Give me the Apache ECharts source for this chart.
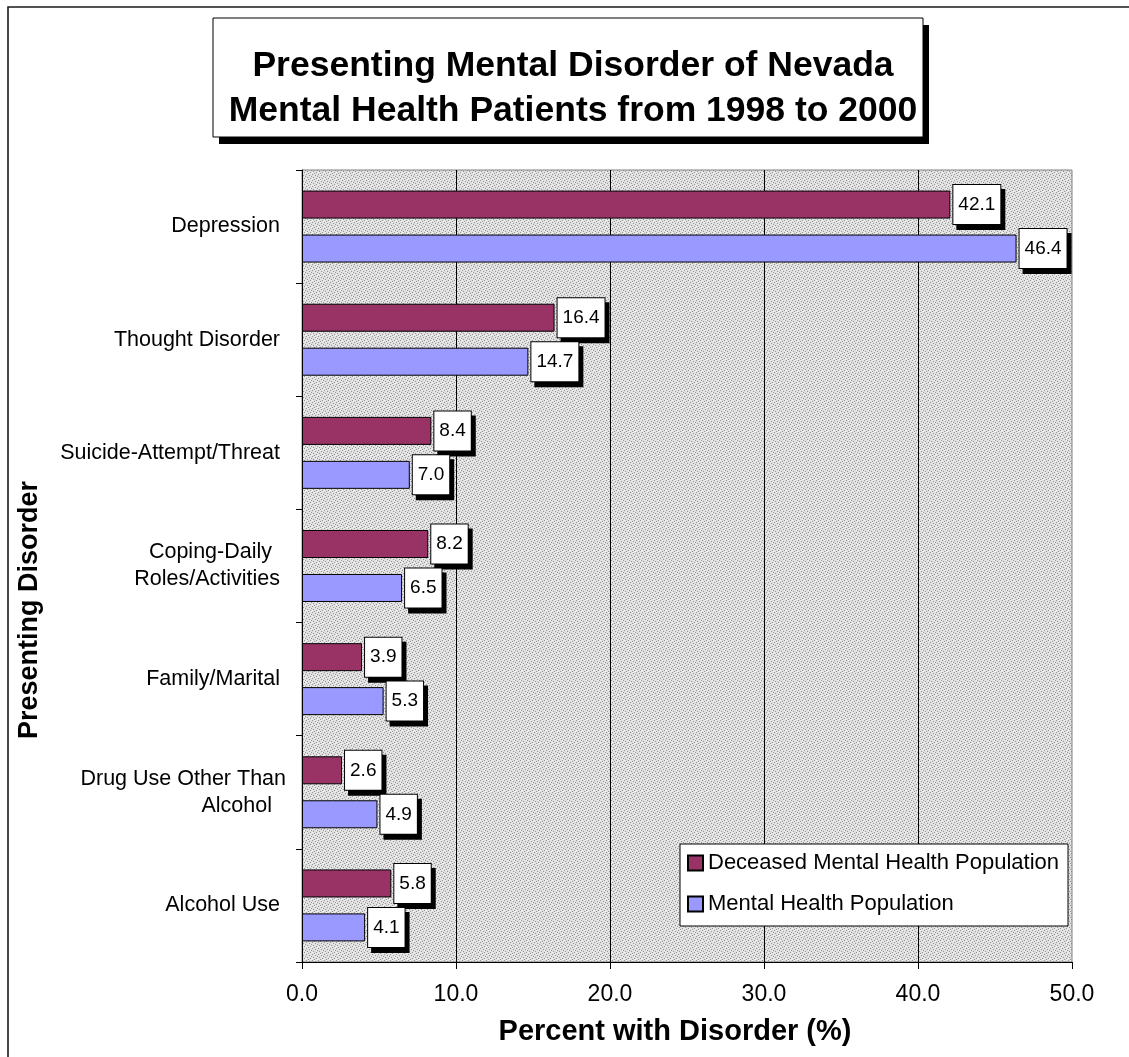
<!DOCTYPE html>
<html>
<head>
<meta charset="utf-8">
<title>Presenting Mental Disorder of Nevada Mental Health Patients</title>
<script src="https://cdn.jsdelivr.net/npm/echarts@6/dist/echarts.min.js"></script>
<style>
  html, body { margin: 0; padding: 0; background: #fff; }
  #chart { width: 1129px; height: 1057px; }
</style>
</head>
<body>
<div id="chart"></div>
<script>
// Presenting disorder categories, top to bottom
const categories = [
  'Depression',
  'Thought Disorder',
  'Suicide-Attempt/Threat',
  'Coping-Daily\nRoles/Activities',
  'Family/Marital',
  'Drug Use Other Than\nAlcohol',
  'Alcohol Use'
];
// Percent with disorder
const deceasedPct = [42.1, 16.4, 8.4, 8.2, 3.9, 2.6, 5.8];
const populationPct = [46.4, 14.7, 7.0, 6.5, 5.3, 4.9, 4.1];
const seriesNames = ['Deceased Mental Health Population', 'Mental Health Population'];
const xMin = 0, xMax = 50, xStep = 10;

const FONT = "'Liberation Sans', Arial, Helvetica, sans-serif";

// Fine grey stipple used as the plot area fill
function stipple() {
  const c = document.createElement('canvas');
  c.width = 6; c.height = 6;
  const g = c.getContext('2d');
  g.fillStyle = '#e0e0e0';
  g.fillRect(0, 0, 6, 6);
  g.fillStyle = '#959595';
  [[0,0],[3,1],[1,3],[4,4],[2,5],[5,2]].forEach(p => g.fillRect(p[0], p[1], 1, 1));
  g.fillStyle = '#f4f4f4';
  [[2,0],[5,5],[0,4],[4,2]].forEach(p => g.fillRect(p[0], p[1], 1, 1));
  return c;
}

// Per-line right padding of the category labels
const lineStyle = {
  'Drug Use Other Than': 'w',
  'Alcohol': 's',
  'Coping-Daily': 's'
};

const chart = echarts.init(document.getElementById('chart'), null, { renderer: 'canvas' });

const valueLabel = {
  show: true,
  position: 'right',
  distance: 3,
  formatter: p => p.value.toFixed(1),
  color: '#000',
  fontFamily: FONT,
  fontSize: 19,
  backgroundColor: '#fff',
  borderColor: '#000',
  borderWidth: 1,
  padding: [10, 5, 10, 5],
  shadowColor: '#000',
  shadowBlur: 0,
  shadowOffsetX: 4,
  shadowOffsetY: 5
};

const catFont = 21.5;

chart.setOption({
  backgroundColor: '#fff',
  animation: false,
  title: {
    text: 'Presenting Mental Disorder of Nevada\nMental Health Patients from 1998 to 2000',
    left: 568,
    textAlign: 'center',
    top: 39,
    textStyle: {
      fontFamily: FONT,
      fontWeight: 'bold',
      fontSize: 35.5,
      lineHeight: 45,
      color: '#000'
    }
  },
  graphic: [
    // outer frame
    { type: 'rect', z: -1, shape: { x: 8, y: 7, width: 1300, height: 1300 },
      style: { fill: null, stroke: '#1a1a1a', lineWidth: 1.6 } },
    // title box with drop shadow
    { type: 'rect', z: -1, shape: { x: 219, y: 25, width: 710, height: 119 },
      style: { fill: '#000' } },
    { type: 'rect', z: -1, shape: { x: 213, y: 18, width: 710, height: 119 },
      style: { fill: '#fff', stroke: '#000', lineWidth: 1 } },
    // vertical axis title
    { type: 'text', x: 30, y: 610, rotation: Math.PI / 2,
      style: { text: 'Presenting Disorder', fontFamily: FONT, fontWeight: 'bold',
               fontSize: 27, fill: '#000', align: 'center', verticalAlign: 'middle' } }
  ],
  legend: {
    orient: 'vertical',
    left: 680,
    top: 844,
    padding: [8, 9, 11, 7],
    itemGap: 19,
    itemWidth: 15,
    itemHeight: 15,
    backgroundColor: '#fff',
    borderColor: '#000',
    borderWidth: 1,
    borderRadius: 0,
    icon: 'rect',
    textStyle: { fontFamily: FONT, fontSize: 22, color: '#000', lineHeight: 22 },
    data: seriesNames
  },
  grid: {
    left: 302,
    top: 170,
    right: 57,
    bottom: 95,
    show: true,
    backgroundColor: { image: stipple(), repeat: 'repeat' },
    borderColor: '#808080',
    borderWidth: 1
  },
  xAxis: {
    type: 'value',
    min: xMin,
    max: xMax,
    interval: xStep,
    name: 'Percent with Disorder (%)',
    nameLocation: 'middle',
    nameGap: 55,
    nameTextStyle: { fontFamily: FONT, fontWeight: 'bold', fontSize: 29, color: '#000',
                     padding: [0, 24, 0, 0] },
    axisLine: { show: true, lineStyle: { color: '#000', width: 1 } },
    axisTick: { show: true, length: 7, lineStyle: { color: '#000' } },
    axisLabel: { formatter: v => v.toFixed(1), fontFamily: FONT, fontSize: 23, color: '#000', margin: 21 },
    splitLine: { show: true, showMinLine: false, showMaxLine: false, lineStyle: { color: '#000', width: 1 } }
  },
  yAxis: {
    type: 'category',
    data: categories,
    inverse: true,
    axisLine: { show: true, lineStyle: { color: '#000', width: 1 } },
    axisTick: { show: true, length: 6, lineStyle: { color: '#000' } },
    axisLabel: {
      margin: 16,
      align: 'right',
      fontFamily: FONT,
      fontSize: catFont,
      color: '#000',
      lineHeight: 27,
      formatter: v => v.split('\n').map(l => '{' + (lineStyle[l] || 'n') + '|' + l + '}').join('\n'),
      rich: {
        n: { fontFamily: FONT, fontSize: catFont, color: '#000', lineHeight: 27, padding: [0, 6, 0, 0] },
        w: { fontFamily: FONT, fontSize: catFont, color: '#000', lineHeight: 27, padding: [0, 0, 0, 0] },
        s: { fontFamily: FONT, fontSize: catFont, color: '#000', lineHeight: 27, padding: [0, 14, 0, 0] }
      }
    },
    splitLine: { show: false }
  },
  series: [
    {
      name: seriesNames[0],
      type: 'bar',
      data: deceasedPct,
      barWidth: 28,
      barGap: '57%',
      itemStyle: { color: '#993366', borderColor: '#000', borderWidth: 1 },
      label: valueLabel
    },
    {
      name: seriesNames[1],
      type: 'bar',
      data: populationPct,
      barWidth: 28,
      barGap: '57%',
      itemStyle: { color: '#9999FF', borderColor: '#000', borderWidth: 1 },
      label: valueLabel
    }
  ]
});
</script>
</body>
</html>
